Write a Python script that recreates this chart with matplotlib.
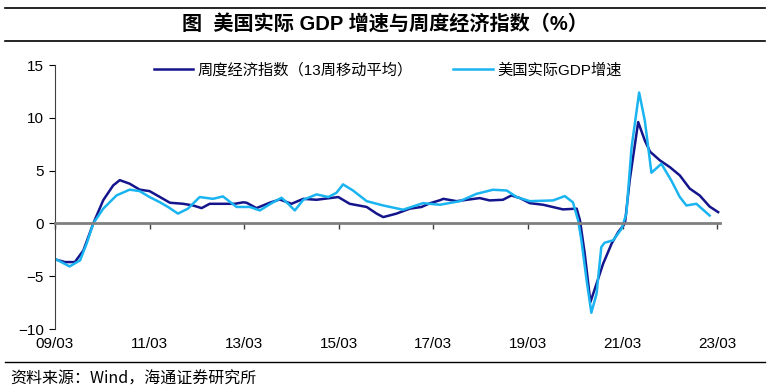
import matplotlib.pyplot as plt

plt.rcParams['font.family'] = ['Liberation Sans', 'Noto Sans CJK SC', 'DejaVu Sans']

# === DATA (x in decimal years) ===
wei_x = [2009.17, 2009.38, 2009.59, 2009.77, 2009.98, 2010.19, 2010.40, 2010.54, 2010.75, 2010.96,
         2011.17, 2011.39, 2011.60, 2011.88, 2012.09, 2012.27, 2012.44, 2012.72, 2012.97, 2013.15,
         2013.22, 2013.43, 2013.71, 2013.92, 2014.17, 2014.42, 2014.70, 2014.98, 2015.16, 2015.40,
         2015.76, 2015.97, 2016.11, 2016.39, 2016.67, 2016.92, 2017.09, 2017.31, 2017.38, 2017.66,
         2018.15, 2018.36, 2018.64, 2018.82, 2019.00, 2019.21, 2019.49, 2019.91, 2020.20, 2020.27,
         2020.37, 2020.49, 2020.62, 2020.76, 2020.94, 2021.08, 2021.22, 2021.32, 2021.50, 2021.64,
         2021.75, 2021.96, 2022.17, 2022.38, 2022.59, 2022.80, 2023.01, 2023.19]
wei_y = [-3.4, -3.66, -3.66, -2.56, 0.0, 2.2, 3.6, 4.1, 3.76, 3.2,
         3.06, 2.5, 1.96, 1.86, 1.7, 1.45, 1.86, 1.86, 1.86, 2.0,
         1.96, 1.45, 1.96, 2.27, 1.86, 2.33, 2.24, 2.4, 2.5, 1.86,
         1.56, 0.93, 0.6, 0.93, 1.4, 1.56, 1.9, 2.2, 2.33, 2.11,
         2.4, 2.18, 2.24, 2.65, 2.4, 1.92, 1.77, 1.33, 1.4, 0.28,
         -2.87, -7.45, -5.7, -3.8, -1.9, -0.8, 0.0, 4.07, 9.6, 7.86,
         6.8, 5.97, 5.33, 4.55, 3.3, 2.65, 1.6, 1.07]

gdp_x = [2009.17, 2009.48, 2009.70, 2009.84, 2009.98, 2010.19, 2010.47, 2010.75, 2010.96, 2011.17,
         2011.39, 2011.56, 2011.77, 2011.98, 2012.23, 2012.51, 2012.72, 2013.01, 2013.29, 2013.50,
         2013.75, 2013.96, 2014.10, 2014.24, 2014.42, 2014.70, 2014.95, 2015.12, 2015.26, 2015.47,
         2015.76, 2016.11, 2016.53, 2016.95, 2017.31, 2017.73, 2018.08, 2018.43, 2018.72, 2018.93,
         2019.21, 2019.70, 2019.95, 2020.12, 2020.23, 2020.30, 2020.41, 2020.51, 2020.62, 2020.72,
         2020.79, 2020.97, 2021.15, 2021.25, 2021.36, 2021.52, 2021.64, 2021.78, 2021.99, 2022.20,
         2022.38, 2022.52, 2022.73, 2023.01]
gdp_y = [-3.35, -4.07, -3.5, -1.9, 0.0, 1.4, 2.65, 3.2, 3.06, 2.5,
         2.0, 1.56, 0.93, 1.4, 2.5, 2.33, 2.56, 1.56, 1.56, 1.23,
         1.92, 2.43, 1.86, 1.23, 2.24, 2.75, 2.5, 2.9, 3.7, 3.12,
         2.11, 1.7, 1.3, 1.92, 1.77, 2.11, 2.8, 3.19, 3.12, 2.5,
         2.11, 2.18, 2.59, 2.0, 0.3, -1.6, -5.4, -8.46, -6.66, -2.24,
         -1.83, -1.6, -0.5, 0.93, 7.2, 12.4, 9.75, 4.8, 5.65, 4.07,
         2.5, 1.7, 1.86, 0.75]

tick_pos = [2009.17, 2011.17, 2013.17, 2015.17, 2017.17, 2019.17, 2021.17, 2023.17]
tick_labels = ['09/03', '11/03', '13/03', '15/03', '17/03', '19/03', '21/03', '23/03']

title = '图  美国实际 GDP 增速与周度经济指数（%）'
source = '资料来源：Wind，海通证券研究所'

# === PLOT ===
fig = plt.figure(figsize=(7.69, 3.92), dpi=100)
ax = fig.add_axes([0.0715, 0.1607, 0.8648, 0.6733])

ax.plot(wei_x, wei_y, color='#14148c', lw=1.8, label='周度经济指数（13周移动平均）')
ax.plot(gdp_x, gdp_y, color='#1ab4f0', lw=1.8, label='美国实际GDP增速')

ax.set_xlim(2009.17, 2023.23)
ax.set_ylim(-10, 15)
ax.set_yticks([-10, -5, 0, 5, 10, 15])
ax.tick_params(axis='y', direction='out', length=4, width=0.8, labelsize=11, pad=4)

# zero line acts as the x axis, labels sit at the bottom
for side in ['top', 'right']:
    ax.spines[side].set_visible(False)
ax.spines['bottom'].set_position(('data', 0))
ax.spines['bottom'].set_color('#808080')
ax.spines['bottom'].set_linewidth(2)
ax.spines['left'].set_color('#404040')
ax.spines['left'].set_linewidth(0.8)
ax.set_xticks(tick_pos)
ax.tick_params(axis='x', direction='out', length=4, width=1, color='#404040', labelbottom=False)

sec = ax.secondary_xaxis('bottom')
sec.set_xticks(tick_pos, tick_labels)
sec.tick_params(length=0, labelsize=11, pad=6)
sec.spines['bottom'].set_visible(False)

ax.legend(loc='upper center', bbox_to_anchor=(0.5, 1.06), ncol=2, frameon=False,
          fontsize=11, handlelength=2.6, columnspacing=2.6, handletextpad=0.3)

# title band and source
fig.add_artist(plt.Line2D([0.007, 0.995], [0.979, 0.979], color='black', lw=1.2))
fig.add_artist(plt.Line2D([0.007, 0.995], [0.895, 0.895], color='black', lw=1.2))
fig.add_artist(plt.Line2D([0.007, 0.995], [0.077, 0.077], color='black', lw=1.0))
fig.text(0.5, 0.937, title, ha='center', va='center', fontsize=14.5, fontweight='bold')
fig.text(0.013, 0.033, source, ha='left', va='center', fontsize=11.5,
         family=['Noto Sans CJK SC', 'DejaVu Sans'])

fig.savefig('out.png', dpi=100)
